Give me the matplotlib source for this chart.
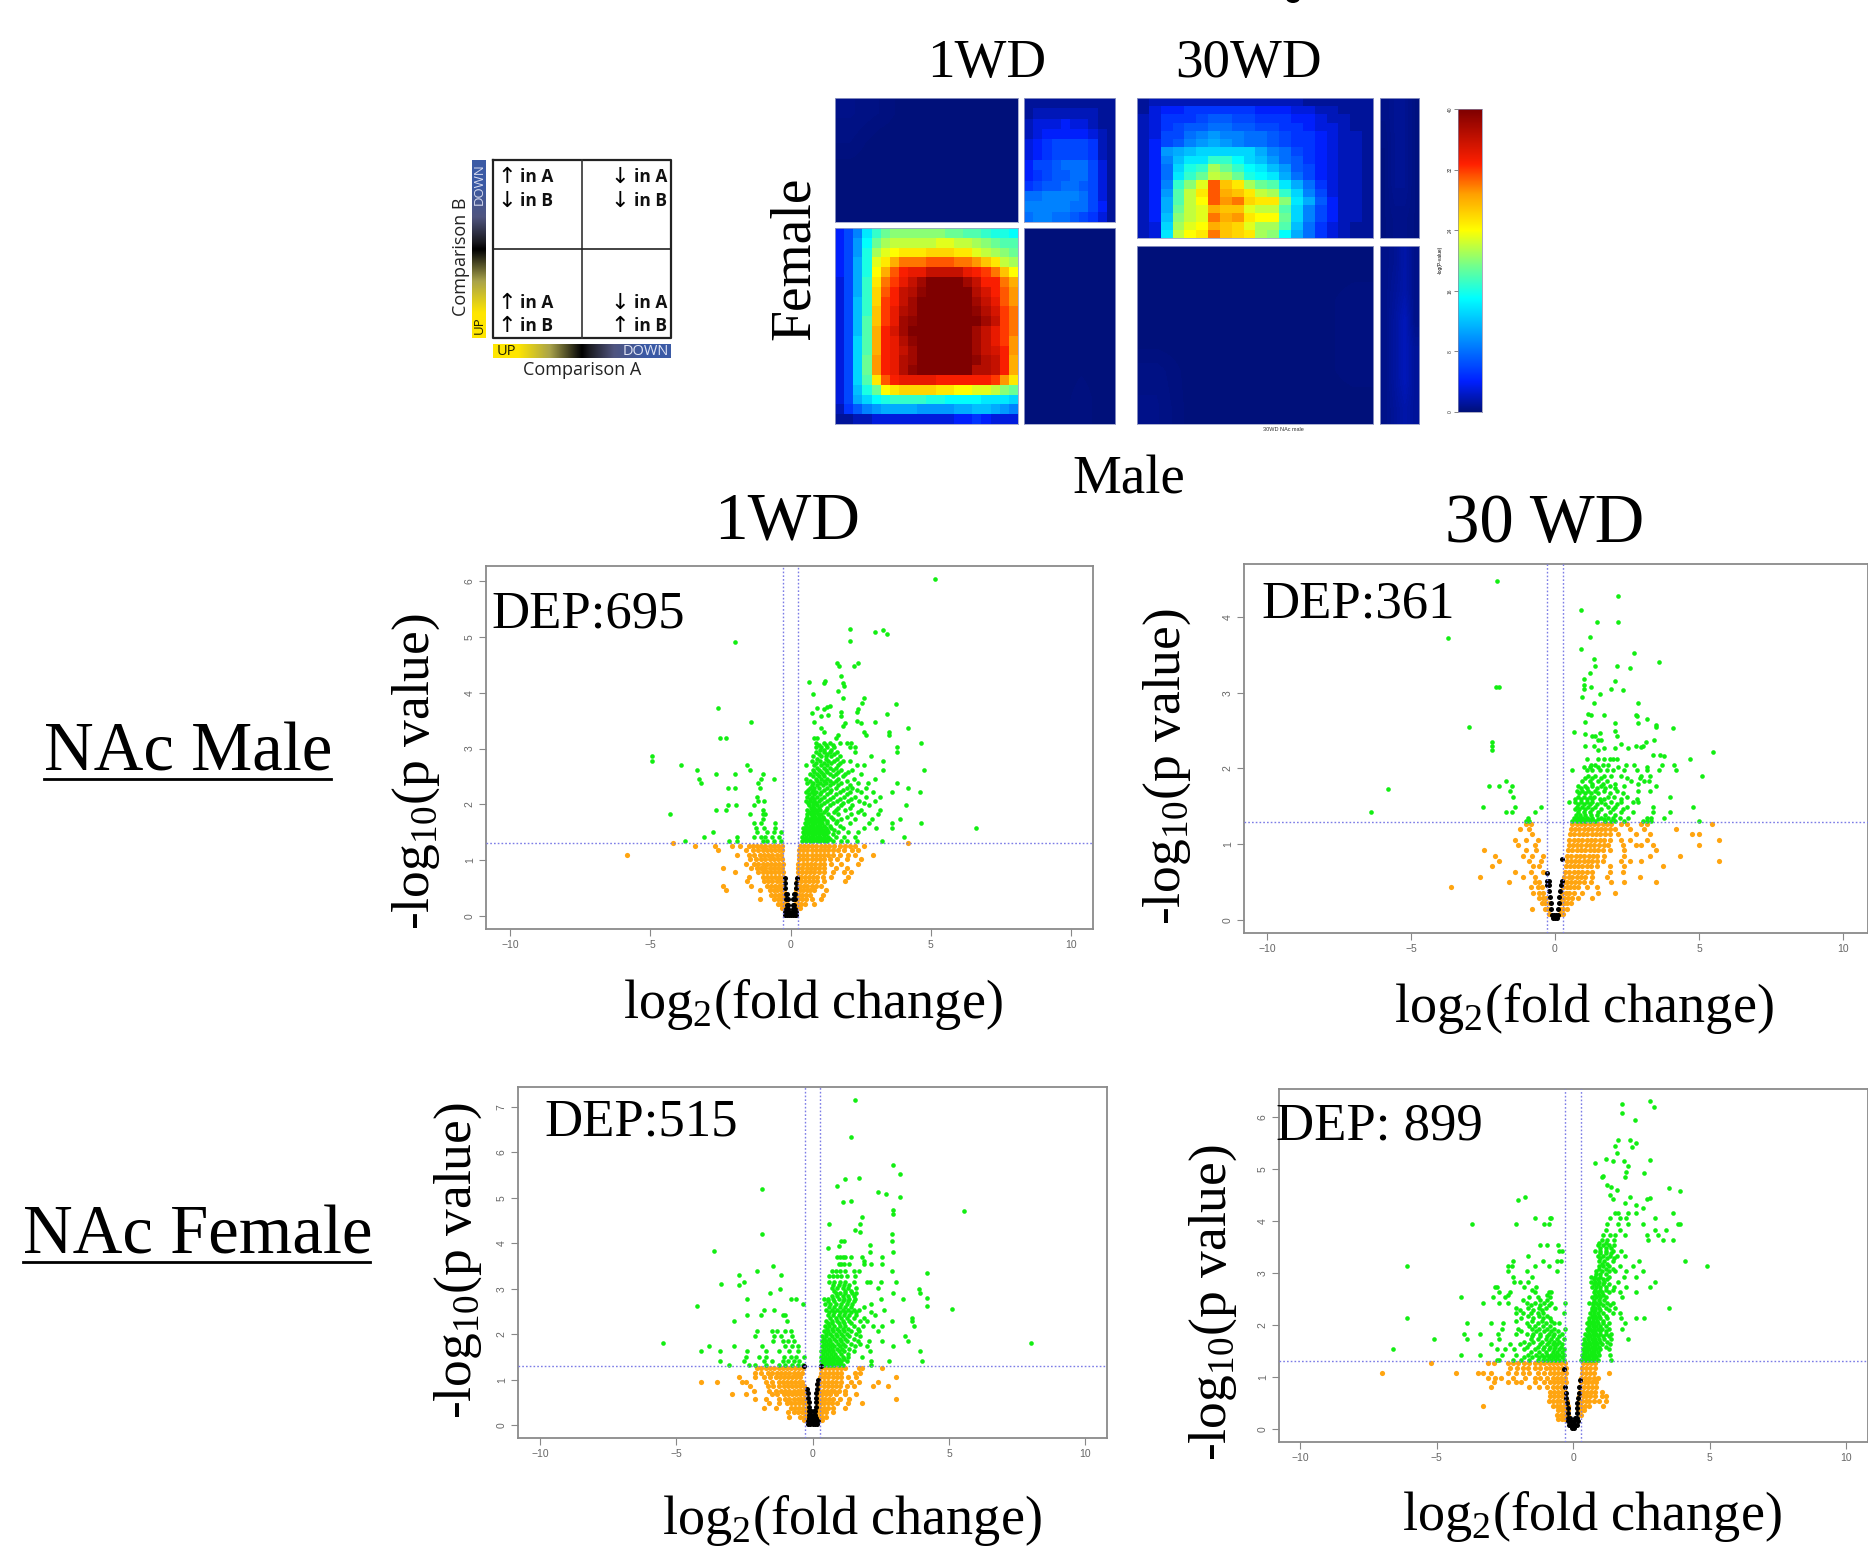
import matplotlib
matplotlib.use('Agg')
import matplotlib.pyplot as plt
from matplotlib.colors import LinearSegmentedColormap
from matplotlib.patches import Ellipse
import numpy as np

plt.rcParams['font.family'] = ['Liberation Serif', 'DejaVu Sans']
plt.rcParams['mathtext.fontset'] = 'custom'
plt.rcParams['mathtext.rm'] = 'Liberation Serif'

W, H = 1868, 1556

# ---- overlap heatmaps (-log P value) ----
wd1_ll = [
    [4,6,9,14,17,19,20,20,20,20,20,20,19,19,18,18,17,16,16,15],
    [4,6,10,15,19,21,22,22,22,22,22,23,23,22,22,21,20,19,18,18],
    [4,6,10,16,21,23,24,25,25,25,26,26,26,25,25,23,22,21,20,19],
    [4,6,11,16,23,25,28,30,30,30,31,31,31,30,30,29,27,25,22,21],
    [4,6,11,16,24,28,31,33,34,34,36,36,36,36,34,33,32,30,27,24],
    [3,6,11,17,25,30,32,34,36,38,40,40,40,40,38,36,33,33,30,28],
    [3,6,11,17,26,31,33,36,37,39,40,40,40,40,40,37,35,33,31,29],
    [3,6,12,17,26,32,33,36,38,40,40,40,40,40,40,38,36,34,31,29],
    [3,6,12,17,27,32,34,37,38,40,40,40,40,40,40,39,37,35,32,30],
    [3,6,12,18,27,32,34,38,39,40,40,40,40,40,40,40,38,36,32,30],
    [3,6,12,18,28,33,35,38,40,40,40,40,40,40,40,38,36,34,32,30],
    [3,6,13,18,28,33,34,37,39,40,40,40,40,40,40,38,36,34,32,29],
    [3,6,13,18,28,33,34,36,38,40,40,40,40,40,40,38,36,35,33,29],
    [3,6,13,19,29,33,34,37,38,40,40,40,40,40,40,39,37,36,33,28],
    [3,6,13,19,29,33,34,37,39,40,40,40,40,40,40,37,37,36,33,28],
    [3,6,13,18,25,31,33,34,34,34,34,33,33,33,33,33,33,32,29,25],
    [3,6,12,16,19,24,25,26,26,26,26,25,25,24,24,23,23,22,20,19],
    [3,6,11,13,15,16,17,17,17,17,16,16,15,15,15,15,14,14,14,13],
    [2,5,7,9,10,11,11,11,11,10,10,10,10,11,11,12,12,11,10,9],
    [1,1,2,2,3,3,3,3,3,3,3,3,3,4,4,5,4,3,3,3],
]
wd1_ur = [
    [1,1,1,1,1,1,1,1,1,1],
    [1,2,2,2,2,2,2,2,1,1],
    [2,3,3,3,4,3,3,2,1,1],
    [2,3,4,4,4,4,4,3,2,1],
    [3,4,5,6,6,6,6,5,2,1],
    [3,4,5,6,6,6,6,5,2,1],
    [4,6,6,7,8,8,8,6,3,1],
    [4,5,6,7,7,8,8,6,3,1],
    [5,6,7,7,8,8,7,6,3,1],
    [8,8,9,9,9,9,8,6,3,1],
    [9,9,9,9,9,8,8,6,4,1],
    [8,9,9,8,8,7,6,5,3,1],
]
wd1_ul = [[.5,.3,0,0,0,0],[.3,0,0,0,0,0],[0,0,0,0,0,0],[0,0,0,0,0,0]]
wd1_lr = [[0,0,0,0],[0,0,0,0],[0,0,0,0],[0,0,.3,0]]
wd30_ul = [
    [1,2,2,2,2,2,2,2,2,2,2,2,2,2,1,1,1,1,1,1],
    [1,3,4,4,5,5,5,5,5,5,4,4,4,3,3,2,2,1,1,1],
    [2,3,5,5,5,6,7,7,6,6,5,5,5,4,4,3,2,2,1,1],
    [2,3,5,6,7,7,8,8,7,7,6,6,5,5,4,3,3,2,1,1],
    [2,3,6,6,8,9,10,9,9,8,8,7,6,5,5,4,3,2,2,1],
    [2,4,6,7,9,10,11,10,9,8,8,7,6,5,5,4,3,2,2,1],
    [2,4,10,11,12,13,13,13,13,13,11,9,8,6,5,4,3,2,2,1],
    [2,4,9,12,14,14,17,17,15,13,12,10,8,7,5,4,3,2,2,1],
    [2,4,8,13,16,17,21,19,17,15,14,12,10,7,6,4,3,2,2,1],
    [2,4,8,14,17,19,22,21,19,16,15,14,11,8,6,4,3,2,2,1],
    [2,4,9,17,20,23,31,27,25,21,19,18,14,11,8,5,3,2,2,1],
    [2,4,10,18,22,25,31,28,27,25,22,21,17,13,9,6,3,2,2,1],
    [2,4,11,18,22,24,31,29,30,26,25,25,20,14,11,7,4,2,2,1],
    [2,4,11,19,22,23,28,27,27,23,22,22,18,13,9,6,4,2,2,1],
    [2,4,12,20,22,23,30,28,29,25,24,24,19,13,9,6,4,2,2,1],
    [2,3,13,21,23,24,28,27,26,23,21,21,18,12,8,5,3,2,1,1],
    [2,3,14,22,24,25,30,27,26,25,21,20,15,11,8,5,3,2,1,1],
]
wd30_ur = [[.5,.8,.8,.3],[.3,.8,.8,.3],[.3,.8,.8,.3],[.3,.5,.5,.3]]
wd30_ll = [[0,0,0,0,0,0],[0,0,0,0,0,.3],[0,0,0,0,0,.3],[.4,0,0,0,0,.3],[.5,0,0,0,0,0]]
wd30_lr = [[.5,.8,1.5,.5],[.5,1,1.5,.5],[.5,1.2,2,.5],[.5,1.2,2,1],[.5,1.2,2,1],[.5,1,1.5,1]]
cbar_ticks = [0, 8, 16, 24, 32, 40]

# ---- volcano plots: rows are (-log10 p, [log2 fc, ...]) ----
m1_green_rows = [
    (1.34,[.42,.55,.68,.8,.93,1.05,1.18,1.3,1.5,1.8,2.0,2.35,-.35,-.6,-.85,-1.0,-1.9,-2.2,-3.75,3.25]),
    (1.42,[.42,.55,.68,.8,.93,1.05,1.18,1.32,1.6,1.9,2.3,-.4,-.65,-.9,-1.05,-1.3,-1.9,-3.1,4.05]),
    (1.5,[.45,.58,.7,.82,.95,1.08,1.2,1.35,1.7,2.05,2.4,-.35,-.6,-.85,-1.2,-2.75]),
    (1.58,[.45,.6,.72,.85,.98,1.1,1.25,1.45,1.85,2.6,3.05,3.6,-.55,-.95,-1.25,6.6]),
    (1.66,[.5,.62,.75,.88,1,1.12,1.3,1.6,2.1,2.8,3.6,4.65,-.55,-1.3,-1.05]),
    (1.74,[.55,.68,.8,.92,1.05,1.2,1.5,1.8,2.3,2.9,3.9,-1.0]),
    (1.82,[.6,.72,.85,.98,1.1,1.35,1.7,2.15,2.6,3.1,-4.3,-1.45,-1.0,-.9]),
    (1.9,[.6,.75,.9,1.05,1.25,1.6,1.95,2.5,3.2,-2.65,-2.3,-1.0]),
    (1.98,[.65,.8,.95,1.1,1.4,1.8,2.2,2.8,4.1,-1.95,-2.25,-1.3]),
    (2.06,[.55,.7,.85,1.0,1.3,1.65,2.05,2.45,3.0,-1.15,-.95]),
    (2.14,[.6,.75,.95,1.2,1.5,1.9,2.3,2.7,3.2,-1.2]),
    (2.22,[.55,.75,.9,1.1,1.4,1.75,2.1,2.5,2.95,3.6,4.6]),
    (2.3,[.7,.85,1.0,1.3,1.6,2.0,2.2,2.7,4.2,-1.1,-2.25,-2]),
    (2.38,[.6,.8,1.05,1.25,1.5,1.8,2.4,2.75,3.8,-3.2,-1.15]),
    (2.46,[.55,.9,1.1,1.3,1.7,2.25,3.0,-3.25,-1.05,-.6]),
    (2.54,[.7,.95,1.15,1.4,1.6,1.95,2.5,-2.65,-2.0,-1.0]),
    (2.62,[.8,1.0,1.25,1.5,1.8,2.2,3.3,4.75,-3.35,-1.45]),
    (2.7,[.55,.85,1.1,1.3,1.7,2.35,2.6,-3.9,-1.55]),
    (2.78,[.75,1.05,1.35,1.55,1.85,2.1,3.3,-4.95]),
    (2.86,[.8,1.1,1.25,1.45,1.75,2.85,-4.95]),
    (2.94,[.9,1.2,1.4,1.65,2.3,3.8]),
    (3.02,[.9,1.1,1.3,1.55,2.1,2.3,3.8]),
    (3.1,[.9,1.2,1.4,1.75,2.0,2.15,4.65]),
    (3.18,[.85,.95,1.6,-2.5,-2.3]),
    (1.38,[.48,.6,.74,.87,1,1.12,1.25,1.42]),
    (1.46,[.48,.62,.75,.88,1,1.14,1.27,1.5]),
    (1.54,[.5,.65,.78,.9,1.02,1.15,1.3,1.55]),
    (1.62,[.55,.68,.8,.93,1.05,1.2,1.4,1.75]),
    (1.7,[.58,.72,.85,.98,1.1,1.3,1.65]),
    (1.78,[.6,.75,.88,1.0,1.15,1.45,2.0]),
    (1.86,[.67,.8,.95,1.2,1.55,2.4]),
    (1.94,[.72,.85,1,1.3,1.7,2.1]),
    (2.02,[.62,.78,.92,1.2,1.5,1.85,2.6]),
    (2.1,[.68,.85,1.1,1.4,1.75,2.15]),
    (2.18,[.65,.85,1.05,1.3,1.6,2.0]),
    (2.26,[.62,.8,1.2,1.45,1.85,2.35]),
    (2.34,[.75,.95,1.15,1.4,1.7,2.1]),
    (2.42,[.7,.95,1.2,1.4,1.6,2.0]),
    (2.5,[.8,1,1.2,1.5,1.85]),
    (2.58,[.85,1.1,1.3,1.7,2.05]),
    (2.66,[.95,1.2,1.4,1.6]),
    (2.74,[.9,1.2,1.45,1.75]),
    (2.82,[.95,1.25,1.65]),
    (2.9,[1,1.3,1.55]),
    (2.98,[1.05,1.2,1.45]),
    (3.06,[1.0,1.25,1.5]),
]
m1_green_pts = [(5.15,6.04),(-1.98,4.9),(2.1,5.15),(2.13,4.93),(3,5.09),(3.3,5.12),(3.45,5.05),(1.65,4.53),(1.72,4.47),
    (2.4,4.53),(2.25,4.47),(1.8,4.3),(1.85,4.17),(1.9,4.12),(.65,4.2),(1.2,4.18),(1.22,4.21),(1.85,3.9),(.8,3.97),(1.7,4.03),
    (2.6,3.9),(2.55,3.82),(2.4,3.7),(3.75,3.8),(-2.6,3.73),(-1.4,3.48),(.95,3.72),(1.3,3.75),(1.4,3.77),(1.2,3.7),(.75,3.64),
    (1.1,3.58),(1.35,3.6),(1.8,3.65),(1.8,3.58),(2.35,3.65),(3.45,3.62),(.85,3.47),(2.35,3.5),(2.5,3.45),(3,3.47),(3.5,3.3),
    (3.5,3.25),(4.2,3.37),(1.1,3.37),(1.2,3.3),(1.85,3.4),(1.95,3.45),(2.6,3.3),(2.7,3.25),(1.7,3.25)]
m1_orange_rows = [
    (1.26,[-2.1,-1.8,-1.5,-1.35,-1.2,-1.05,-.9,-.75,-.6,-.45,-.3,.32,.47,.62,.77,.92,1.07,1.22,1.37,1.55,1.75,1.95,2.1,2.3,-3.4,-2.7,2.6]),
    (1.18,[-1.6,-1.35,-1.15,-1,-.85,-.7,-.55,-.4,-.3,.3,.45,.6,.75,.9,1.05,1.2,1.35,1.5,1.7,1.9,2.2,2.4,-2.6]),
    (1.1,[-1.9,-1.5,-1.3,-1.1,-.95,-.8,-.65,-.5,-.35,.3,.45,.6,.75,.9,1.05,1.2,1.35,1.5,1.75,2.05,2.3,2.95,-5.85]),
    (1.02,[-1.45,-1.25,-1.05,-.9,-.75,-.6,-.45,-.3,.3,.45,.6,.75,.9,1.05,1.2,1.4,1.65,2.0,2.5]),
    (.94,[-1.6,-1.3,-1.15,-1.0,-.85,-.7,-.55,-.4,-.28,.28,.43,.58,.73,.88,1.03,1.2,1.45,1.8,2.4]),
    (.86,[-2.4,-1.4,-1.2,-1.05,-.9,-.75,-.6,-.45,-.3,.27,.42,.57,.72,.87,1.02,1.2,1.6,2.0]),
    (.78,[-2.0,-1.15,-1,-.85,-.7,-.55,-.4,-.27,.26,.4,.55,.7,.85,1,1.2,1.5,1.9,2.15]),
    (.7,[-1.5,-1.0,-.85,-.7,-.55,-.4,-.27,.25,.38,.52,.66,.8,.95,1.15,1.45,2.05]),
    (.62,[-1.55,-.95,-.8,-.65,-.5,-.38,-.25,.24,.36,.5,.64,.78,.95,1.2,1.95]),
    (.54,[-2.4,-1.4,-.85,-.7,-.55,-.42,-.3,.22,.34,.46,.6,.75,.9,1.1]),
    (.46,[-2.3,-1.1,-.75,-.6,-.47,-.35,-.23,.2,.32,.44,.58,.7,.85,1.25]),
    (.38,[-.7,-.55,-.42,-.3,-.2,.18,.3,.42,.55,.7,1.15]),
    (.3,[-1.1,-.6,-.45,-.33,-.2,.16,.28,.4,.55,.75,1.1]),
    (.22,[-.45,-.33,-.22,-.14,.14,.25,.37,.5,.85]),
    (.14,[-.3,-.2,-.12,.13,.22,.35]),
    (1.3,[-4.2,4.2]),
]
m1_black_rows = [(.02,[-.2,-.14,-.07,0,.07,.14,.2]),(.07,[-.2,-.12,-.05,.05,.12,.2]),(.12,[-.16,-.08,.08,.16]),(.2,[-.13,-.08,.08,.13]),
    (.3,[-.15,-.1,.1,.15]),(.4,[-.17,-.12,.12,.17]),(.5,[-.19,.18]),(.6,[-.2,.2]),(.68,[-.21,.21])]

m30_green_rows = [
    (2.12,[1.1,1.5,1.7,1.9,2.0,2.15,4.7]),
    (2.05,[1.25,1.4,1.65,1.85,2.45,2.75,3.7,4.15]),
    (1.98,[.6,1.1,1.3,1.55,1.8,2.0,2.4,2.85,3.2,3.6,4.2]),
    (1.9,[1.15,1.4,1.7,1.95,2.3,3.0,3.3,5.1]),
    (1.83,[.95,1.2,1.5,1.8,2.65,3.1,3.25,-1.7]),
    (1.77,[.8,1.05,1.3,1.6,1.9,2.4,3.5,-2.3,-1.95,-1.5]),
    (1.7,[.75,.95,1.15,1.4,1.7,2.15,2.9,3.3,-1.55]),
    (1.63,[.8,1.0,1.2,1.35,1.85,2.05,2.5,-1.45,4.0]),
    (1.56,[.5,.7,.9,1.1,1.3,1.6,1.95,2.3,2.7,2.9]),
    (1.49,[.75,.95,1.15,1.4,1.85,2.1,2.5,3.4,4.8,-2.5,-1.4,-.5]),
    (1.42,[.8,1.0,1.2,1.5,1.9,2.3,2.7,3.4,4.0,-1.7,-1.5,-6.4,-.7]),
    (1.35,[.65,.8,.95,1.1,1.3,1.6,1.85,2,2.25,2.55,3.2,3.35,3.8,-.95]),
    (1.31,[.6,.75,.9,1.05,1.2,1.4,1.75,1.95,2.1,2.4,3.05,3.2,3.35,5,-.9,-1.0]),
    (1.33,[.7,.85,1,1.15,1.3,1.5,1.7]),
    (1.39,[.72,.88,1.05,1.25,1.45,1.75,2.1]),
    (1.46,[.7,.85,1.05,1.3,1.6,2,2.35]),
    (1.53,[.8,1,1.2,1.45,1.75,2.15]),
    (1.6,[.7,.9,1.1,1.3,1.55,1.7,2.3,2.85]),
    (1.67,[.85,1.05,1.25,1.5,1.9,2.35]),
    (1.74,[.9,1.1,1.45,1.75,2.1]),
    (1.8,[1.3,1.65,2.1,2.9]),
    (1.87,[1.05,1.3,1.6,2.5,2.95]),
    (2.02,[1,1.2,1.5,2.2,3.2]),
]
m30_green_pts = [(-2.0,4.47),(2.2,4.28),(.9,4.09),(2.2,3.94),(1.45,3.93),(-3.7,3.72),(1.2,3.73),(.9,3.58),(2.75,3.53),(1.35,3.44),
    (3.6,3.41),(1.4,3.35),(2.15,3.35),(2.6,3.33),(1.2,3.26),(1,3.18),(2.1,3.15),(1,3.1),(1.25,3.07),(-2.05,3.08),(-1.95,3.07),(1,3.05),
    (1.95,3.05),(2.35,3.03),(.95,2.95),(1.55,2.98),(1.35,2.87),(2.9,2.87),(1.15,2.72),(1.25,2.7),(1.7,2.7),(2.8,2.7),(2.85,2.69),(3.2,2.65),
    (-3,2.55),(1.05,2.62),(2.1,2.6),(2.9,2.6),(3.5,2.57),(3.5,2.55),(4.1,2.53),(.65,2.48),(1.05,2.45),(1.3,2.43),(1.4,2.43),(1.55,2.47),
    (2.1,2.5),(2.15,2.43),(-2.2,2.35),(-2.2,2.3),(-2.2,2.25),(1.5,2.38),(1.6,2.37),(2.3,2.32),(2.8,2.3),(3,2.28),(3.15,2.35),(3.45,2.37),
    (1.05,2.3),(1.35,2.3),(1.5,2.25),(1.7,2.27),(2.1,2.27),(2.55,2.27),(3.05,2.3),(5.5,2.22),(3.4,2.18),(3.65,2.18),(3.8,2.17),(-5.8,1.73)]
m30_orange_rows = [
    (1.27,[-1.0,-.85,.6,.75,.9,1.05,1.2,1.35,1.5,1.65,1.8,1.95,2.3,2.5,3.0,3.2,5.45]),
    (1.2,[-1.2,-.9,.55,.7,.85,1,1.15,1.3,1.45,1.6,1.75,1.9,2.1,2.6,3.1,4.2]),
    (1.13,[-.8,.52,.67,.82,.97,1.12,1.27,1.42,1.57,1.72,1.9,2.2,2.8,3.3,4.75,5]),
    (1.06,[-1.4,-1.0,-.6,.5,.65,.8,.95,1.1,1.25,1.4,1.55,1.7,1.9,2.3,2.6,3.2,5.7]),
    (.99,[-1.3,-.7,.47,.62,.77,.92,1.07,1.22,1.37,1.52,1.7,1.85,2.35,2.8,3.0,3.4,5]),
    (.92,[-2.45,-1.0,-.65,.45,.6,.75,.9,1.05,1.2,1.35,1.5,1.65,1.9,2.4,3.5]),
    (.85,[-2.1,-1.1,-.8,-.4,.42,.57,.72,.87,1.02,1.17,1.32,1.47,1.7,2.4,3.3,4.35]),
    (.78,[-1.95,-.9,-.5,.4,.55,.7,.85,1,1.15,1.3,1.45,1.65,2.3,2.6,3.0,5.7]),
    (.71,[-2.2,-.75,-.55,.38,.52,.66,.8,.95,1.1,1.25,1.45,1.9,2.4,3.75]),
    (.64,[-1.4,-.85,-.4,.35,.5,.65,.8,.95,1.1,1.3,1.9,2.35]),
    (.57,[-2.6,-1.1,-.7,.33,.47,.6,.75,.9,1.05,1.3,1.8,2.95]),
    (.5,[-1.6,-.7,-.55,.3,.43,.56,.7,.85,1.0,1.25,1.95,2.4,3.5]),
    (.43,[-3.6,-.85,-.6,-.45,.28,.4,.52,.65,.8,1.1,1.45]),
    (.36,[-.75,-.55,-.42,.25,.37,.5,.65,.95,1.5,2.1]),
    (.29,[-.55,-.4,-.3,.22,.33,.45,.6,.8,1.3]),
    (.22,[-.45,-.33,-.22,.2,.3,.42,.55]),
    (.15,[-.8,-.35,-.25,.17,.27,.4]),
    (.08,[-.2,.18,.28]),
]
m30_black_rows = [(.02,[-.08,0,.08]),(.07,[-.12,-.04,.04,.12]),(.14,[-.14,.12]),(.22,[-.15,.13]),(.3,[-.18,.15]),(.38,[-.2,.16]),
    (.46,[-.28,-.22,.2]),(.52,[-.28,-.2,.24]),(.62,[-.28]),(.8,[.26])]

f1_green_rows = [
    (3.7,[.9,1.0,1.1,1.2,1.4]),
    (3.55,[.95,1.05,1.15,1.35,1.9,2.15,2.55]),
    (3.4,[.7,.85,1.0,1.2,1.5,1.7,2.9]),
    (3.28,[.6,.75,.9,1.05,1.25,1.55]),
    (3.15,[.6,.8,1.0,1.2,1.5,2,2.1,2.5,3.05]),
    (3.02,[.7,.9,1.1,1.3,1.6,2.4]),
    (2.9,[.85,1.0,1.2,1.45,1.6,2.95,3.95]),
    (2.78,[.4,.55,.75,.95,1.15,1.35,1.55,2.5,3.3,-2.4,-.8,-.6]),
    (2.66,[.45,.65,.85,1.05,1.25,1.45,2.15,-.35]),
    (2.54,[.5,.7,.9,1.1,1.3,1.5,1.7,2.6,-1.8,-1.4]),
    (2.42,[.55,.75,.95,1.15,1.35,1.6,2.3,-2.4,-1.9,-1.1,-1.0]),
    (2.3,[.5,.7,.9,1.1,1.35,1.75,2.0,2.9,3.65,-2.9,-.95]),
    (2.18,[.45,.6,.8,1.0,1.2,1.5,1.85,2.2,2.55,3.7]),
    (2.06,[.4,.55,.75,.95,1.15,1.4,1.7,2.4,-2.05,-1.5,-1.3,-1,-.8]),
    (1.95,[.35,.5,.7,.9,1.1,1.35,1.75,3.4,-2.1,-1.4,-1.15,-.75]),
    (1.84,[.35,.5,.65,.85,1.05,1.25,1.65,2.05,2.55,3.5,-1.45,-1.1,-.9,-.7]),
    (1.73,[.35,.5,.65,.8,1,1.2,1.55,2.0,2.95,-1.85,-1,-.75,-.55,-2.9,-3.8]),
    (1.62,[.3,.45,.6,.75,.95,1.15,1.5,2.1,3.95,-2.4,-1.7,-1.25,-.85,-.55,-4.1,-3.4]),
    (1.5,[.3,.45,.6,.75,.9,1.1,1.3,1.8,-2.45,-1.95,-1.7,-1.05,-.8,-.6,-.3]),
    (1.4,[.3,.45,.6,.75,.9,1.05,1.25,2.15,2.8,4,-2.5,-1.8,-1.5,-1.1,-.9,-.7,-.5,-3.4]),
    (1.32,[.3,.42,.55,.68,.8,.95,1.1,2.15,-3.05,-2.35,-2.1,-1.7,-1.25,-1,-.75,-.55,-.35]),
    (1.36,[.36,.5,.62,.75,.88,1]),
    (1.45,[.36,.5,.65,.8,.95,1.15]),
    (1.56,[.38,.52,.68,.82,1.05,1.3]),
    (1.68,[.4,.55,.7,.88,1.08,1.35]),
    (1.78,[.42,.58,.72,.92,1.12,1.4,1.75]),
    (1.9,[.42,.6,.8,1,1.2,1.5]),
    (2.0,[.48,.65,.85,1.05,1.25,1.6]),
    (2.12,[.52,.7,.9,1.1,1.3,1.65]),
    (2.24,[.55,.7,.95,1.15,1.4]),
    (2.36,[.65,.85,1.05,1.25,1.5,1.9]),
    (2.48,[.6,.8,1.0,1.2,1.4,1.6,2.15]),
    (2.6,[.6,.8,1,1.2,1.4,1.9]),
    (2.72,[.55,.8,1.1,1.3,1.5]),
    (2.84,[.7,.9,1.1,1.3,1.5]),
    (2.96,[.8,1.2,1.4]),
    (3.08,[.75,.95,1.15,1.35]),
]
f1_green_pts = [(1.55,7.15),(1.4,6.35),(2.95,5.72),(3.2,5.53),(1.7,5.43),(1.2,5.42),(.9,5.27),(-1.85,5.2),(2.4,5.12),(2.7,5.08),(3.2,5.02),
    (1.4,4.93),(1.1,4.9),(5.55,4.7),(2.95,4.73),(2.95,4.65),(1.8,4.58),(.6,4.43),(1.75,4.43),(1.55,4.3),(1.75,4.25),(2.9,4.2),(-1.85,4.2),
    (2.9,4.05),(1.05,4.05),(1.15,4.05),(2.1,3.97),(.55,3.9),(.95,3.93),(2.1,3.8),(2.95,3.8),(-3.6,3.83),(2.55,3.7),(1.8,3.7),(1.9,3.6),
    (4.2,3.35),(5.1,2.55),(8,1.8),(-5.5,1.8),(-4.25,2.63),(-3.35,3.1),(-2.7,3.3),(-2.7,3.08),(-2.5,3.15),(-2.05,3.4),(-1.45,3.5),(-1.15,3.3),
    (-1.2,3),(-1.55,2.9),(4.2,2.8),(4.2,2.62),(3.9,3.0),(3.65,2.35)]
f1_orange_rows = [
    (1.25,[-2.05,-1.9,-1.7,-1.55,-1.4,-1.25,-1.1,-.95,-.8,-.65,-.5,-.35,.3,.45,.6,.75,.9,1.05,1.2,1.7,1.8,2.55]),
    (1.15,[-2.1,-1.9,-1.65,-1.5,-1.3,-1.15,-1,-.85,-.7,-.55,-.4,.3,.45,.6,.75,.9,1.05,1.55,1.75]),
    (1.05,[-2.7,-2.1,-1.8,-1.55,-1.35,-1.2,-1.05,-.9,-.75,-.6,-.45,.28,.43,.58,.73,.88,1.03,1.3,1.6,3.05]),
    (.95,[-4.1,-3.5,-2.6,-2.45,-1.7,-1.5,-1.25,-1.1,-.95,-.8,-.65,-.5,-.38,.27,.42,.57,.72,.87,1.05,1.4,1.7,2.4]),
    (.85,[-2.3,-1.65,-1.45,-1.25,-1.05,-.9,-.75,-.6,-.45,-.33,.25,.4,.55,.7,.85,1.0,1.25,1.5,2.2,2.75]),
    (.75,[-2.15,-1.6,-1.35,-1.15,-1,-.85,-.7,-.55,-.42,-.3,.24,.38,.52,.66,.8,.95,1.2]),
    (.68,[-2.95,-2.45,-1.5,-1.3,-1.05,-.9,-.75,-.6,-.47,-.33,.22,.35,.5,.65,.85,1.2,1.6]),
    (.58,[-2.1,-1.7,-1.25,-1.0,-.85,-.7,-.55,-.42,-.3,.2,.33,.47,.6,.75,1,1.35,3.05]),
    (.48,[-1.6,-1.25,-.95,-.8,-.65,-.5,-.37,-.25,.18,.3,.42,.55,.7,.9,1.3,1.8]),
    (.38,[-1.8,-1.35,-.8,-.65,-.5,-.35,-.22,.15,.27,.4,.55,.75,1.2]),
    (.28,[-.9,-.7,-.55,-.4,-.28,-.18,.13,.24,.36,.5,.75]),
    (.18,[-.85,-.45,-.32,-.2,.12,.22,.34,.5]),
    (.1,[-.3,-.18,.12,.22,.35]),
]
f1_black_rows = [(.03,[-.16,-.08,0,.08,.16]),(.09,[-.18,-.12,-.04,.04,.12,.18]),(.15,[-.14,-.06,.06,.14]),(.22,[-.12,-.06,.06,.1]),
    (.3,[-.13,-.06,.06,.1]),(.4,[-.13,.12]),(.5,[-.15,.12]),(.6,[-.16,.13]),(.7,[-.18,.14]),(.8,[-.2,.15]),(.9,[.17]),(1.0,[.2]),(1.3,[-.3,.3])]

f30_green_rows = [
    (1.33,[.3,.42,.54,.66,.78,.9,1.4,-.35,-.5,-.65,-.8,-.95,-1.1,-1.3,-1.6,-1.9,-2.7,-2.8,-2.2]),
    (1.43,[.32,.45,.58,.7,.82,.95,1.35,-.35,-.5,-.65,-.8,-.95,-1.15,-1.35,-1.65,-2.1,-2.6,-3.4,-4.1]),
    (1.53,[.35,.48,.6,.72,.85,1,1.3,-.35,-.5,-.7,-.9,-1.1,-1.4,-1.8,-2.15,-2.5,-2.8,-6.6]),
    (1.63,[.38,.5,.62,.75,.88,1.05,1.35,-.4,-.6,-.75,-.95,-1.2,-1.6,-1.95,-2.3,-3]),
    (1.73,[.4,.55,.68,.8,.95,1.15,1.4,2,-.35,-.6,-.8,-1,-1.3,-1.55,-2.7,-3.9,-5.1]),
    (1.83,[.45,.6,.72,.85,1,1.2,1.4,-.4,-.7,-.9,-1.2,-1.45,-1.7,-2.1,-2.75,-3.4,-4]),
    (1.93,[.5,.62,.75,.9,1.05,1.3,1.8,-.3,-.7,-.95,-1.25,-1.5,-2.0,-2.6]),
    (2.03,[.5,.65,.78,.92,1.08,1.3,1.9,-.5,-.7,-1.0,-1.3,-1.7,-2.55,-3.9,-3.0]),
    (2.13,[.6,.72,.85,1,1.25,1.75,2.3,2.6,-.85,-1.1,-1.45,-1.9,-6.1]),
    (2.23,[.62,.75,.9,1.1,1.45,1.7,-.35,-1.1,-1.3,-1.55,-1.85,-2.1]),
    (2.33,[.7,.82,.95,1.2,1.55,-.65,-1,-1.25,-1.65,-2.1,3.5]),
    (2.43,[.58,.72,.85,1,1.25,1.45,-.3,-.8,-1.05,-1.4,-1.7,-2.4,-2.7,-3.3]),
    (2.53,[.7,.85,1.0,1.2,1.8,-.85,-1.3,-1.6,-2.5,-2.95,-4.1]),
    (2.63,[.75,.9,1.05,1.3,1.7,2.3,-.8,-.9,-1.4,-2.3,-2.7]),
    (2.73,[.7,.85,1,1.2,1.5,1.95,2.8,-1.35,-1.8,-2.8,-2.85]),
    (2.83,[.65,.8,.95,1.15,1.65,3,-1.65,-1.95,-2.15]),
    (2.93,[.65,.8,1,1.3,1.85,2.3,-1.5,-2.2]),
    (3.03,[.85,1.05,1.3,1.55,1.95,2.55,-1.7,-2.4,-.6]),
    (3.13,[.95,1.1,1.3,1.7,2.2,-2.4,-2.25,-1.4,-.9,4.9,-6.1]),
    (3.23,[.95,1.15,1.45,2.4,-2.2,-1.1,-.45,-.6,4.1]),
    (3.33,[.9,1.1,1.35,1.6,1.9,-1.65]),
    (3.43,[.8,1,1.2,1.45,1.75,-.5,-.4]),
    (3.53,[.9,1.1,1.3,1.5,-1.2,-.95,-.55]),
    (3.63,[1.05,1.25,1.5,2.75,3.65,3.3]),
    (3.73,[1.1,1.35,1.55,1.9,2.7,3.1]),
    (3.83,[1.2,1.7,3.0,3.4]),
    (3.95,[1.25,1.65,2,2.55,-2.1,-1.05,-.9,3.85,3.9,-3.7]),
    (4.05,[1.35,1.7,1.95,3.0,-.85,-.8,-1.4]),
    (4.15,[1.55,1.65,2.0,2.3,3.65]),
    (1.38,[.36,.48,.6,.72,.85,-.42,-.58,-.72,-.88,-1.05,-1.25,-1.5,-1.8]),
    (1.48,[.4,.52,.65,.78,.92,-.42,-.58,-.75,-1,-1.25,-1.55]),
    (1.58,[.42,.55,.68,.8,.95,1.2,-.45,-.65,-.85,-1.05,-1.3,-1.7]),
    (1.68,[.45,.6,.72,.85,1,1.25,-.5,-.7,-.9,-1.15,-1.45,-1.8]),
    (1.78,[.5,.62,.75,.9,1.1,1.3,-.5,-.72,-.95,-1.2,-1.5]),
    (1.88,[.55,.68,.82,.98,1.2,-.55,-.8,-1.05,-1.35,-1.9]),
    (1.98,[.58,.72,.85,1,1.2,-.85,-1.1,-1.4,-1.6]),
    (2.08,[.58,.72,.88,1.1,-.8,-1.15,-1.5,-2.1]),
    (2.18,[.68,.8,.95,1.2,-.95,-1.25,-1.65]),
    (2.28,[.68,.82,1.0,1.3,-1.15,-1.45,-1.95]),
    (2.38,[.72,.9,1.1,1.35,-.9,-1.2,-1.55]),
    (2.48,[.78,.95,1.15,-.95,-1.2,-1.85]),
    (2.58,[.8,.95,1.1,-.95,-2.4]),
    (2.68,[.82,1,1.2,1.45,-1.5]),
    (2.78,[.75,.9,1.1,1.3]),
    (2.88,[.75,.9,1.1,1.25]),
    (2.98,[.85,1,1.2]),
    (3.08,[.95,1.2,1.45]),
    (3.18,[1.05,1.25]),
    (3.28,[1,1.25,1.5]),
    (3.38,[1,1.2,1.4]),
    (3.48,[1,1.2,1.4]),
    (3.58,[.95,1.2]),
]
f30_green_pts = [(2.8,6.3),(2.95,6.2),(1.8,6.25),(1.8,6.08),(2.25,5.95),(1.65,5.55),(2.1,5.55),(2.3,5.5),(1.55,5.45),(2.15,5.42),(1.6,5.3),
    (.8,5.12),(1.2,5.2),(1.45,5.15),(1.85,5.15),(2.8,5.17),(2,5.05),(1.95,4.95),(2.6,4.93),(1.9,4.85),(1.1,4.87),(1.05,4.85),(1.25,4.7),
    (1.4,4.65),(1.6,4.6),(3.5,4.63),(3.9,4.57),(1.35,4.5),(1.45,4.42),(2.1,4.47),(2.8,4.45),(2.7,4.43),(1.9,4.35),(2.3,4.3),(2.55,4.25),
    (-1.75,4.47),(-2,4.4)]
f30_orange_rows = [
    (1.26,[-3.1,-2.9,-2.4,-2.2,-2.0,-1.8,-1.6,-1.4,-1.2,-1.05,-.9,-.75,-.6,-.45,-.3,.35,.5,.65,.8,-5.2]),
    (1.17,[-2.3,-2.05,-1.85,-1.65,-1.4,-1.2,-1,-.85,-.7,-.55,-.4,-.27,.33,.48,.63,.8]),
    (1.08,[-7,-4.3,-3.5,-3.3,-3,-2.4,-2.1,-1.85,-1.6,-1.3,-1.05,-.85,-.7,-.55,-.4,-.27,.32,.47,.62,.78,1.3]),
    (.99,[-3.1,-2.85,-2.65,-2.2,-1.75,-1.4,-1.2,-.95,-.75,-.6,-.45,-.3,.3,.45,.6,.75,.9]),
    (.9,[-2.9,-2.4,-2.1,-1.9,-1.4,-1.05,-.85,-.7,-.55,-.4,-.27,.28,.42,.56,.7,.85]),
    (.81,[-3,-1.6,-1.25,-.95,-.75,-.6,-.45,-.32,.26,.4,.54,.68,.85]),
    (.72,[-.85,-.7,-.55,-.42,-.28,.24,.38,.52,.66,.82,1.05]),
    (.63,[-.85,-.7,-.55,-.42,-.28,.22,.35,.48,.62,.8,1.05,1.2]),
    (.54,[-.9,-.75,-.6,-.47,-.33,-.22,.2,.33,.46,.6,.75,.95,1.2]),
    (.45,[-3.3,-.75,-.6,-.47,-.33,-.2,.18,.3,.43,.6,1.1]),
    (.36,[-.55,-.42,-.3,-.18,.17,.28,.4]),
    (.27,[-.6,-.45,-.32,-.17,.28]),
    (.2,[-.55,-.4,-.28]),
]
f30_black_rows = [(.02,[-.05,.02]),(.08,[-.15,-.08,0,.08,.15]),(.15,[-.18,-.08,.05,.17]),(.22,[-.17,-.1,.08,.14]),(.3,[-.18,.13]),(.4,[-.2,.15]),
    (.5,[-.23,.16]),(.6,[-.25,.18]),(.7,[-.27,.2]),(.8,[-.28,.22]),(.95,[.26]),(1.15,[-.35])]

x_ticks = [-10, -5, 0, 5, 10]
fc_cut = 0.28
p_cut = 1.3


def flatten(rows, pts=()):
    xs, ys = [], []
    for y, vals in rows:
        xs += list(vals)
        ys += [y] * len(vals)
    for x, y in pts:
        xs.append(x)
        ys.append(y)
    return xs, ys


fig = plt.figure(figsize=(W / 100, H / 100), dpi=100, facecolor='white')


def pix_axes(l, t, r, b, **kw):
    return fig.add_axes([l / W, 1 - b / H, (r - l) / W, (b - t) / H], **kw)


# ---- heatmaps ----
heat_cmap = LinearSegmentedColormap.from_list('rrho', [
    (0.0, '#00107a'), (0.1, '#0020ff'), (0.22, '#0080ff'), (0.375, '#00ffff'),
    (0.48, '#70ff90'), (0.6, '#ffff00'), (0.72, '#ffa000'), (0.82, '#ff2000'), (1.0, '#7f0000')])

heat_blocks = [
    (wd1_ul, 835, 98, 1018, 222), (wd1_ur, 1024, 98, 1115, 222),
    (wd1_ll, 835, 228, 1018, 424), (wd1_lr, 1024, 228, 1115, 424),
    (wd30_ul, 1137, 98, 1373, 238), (wd30_ur, 1380, 98, 1419, 238),
    (wd30_ll, 1137, 246, 1373, 424), (wd30_lr, 1380, 246, 1419, 424),
]
for grid, l, t, r, b in heat_blocks:
    ax = pix_axes(l, t, r, b)
    # the small grids are only a faint wash, the big ones show their cells
    interp = 'nearest' if len(grid[0]) >= 10 else 'bilinear'
    ax.imshow(np.array(grid, dtype=float), cmap=heat_cmap, vmin=0, vmax=40, aspect='auto',
              interpolation=interp)
    ax.set_xticks([])
    ax.set_yticks([])
    for s in ax.spines.values():
        s.set_color('#9aa0c8')
        s.set_linewidth(0.6)

# colorbar
cax = pix_axes(1458, 109, 1482, 412)
cax.imshow(np.linspace(40, 0, 256).reshape(-1, 1), cmap=heat_cmap, vmin=0, vmax=40, aspect='auto',
           extent=[0, 1, 0, 40])
cax.set_xticks([])
cax.set_yticks(cbar_ticks)
cax.set_yticklabels([str(t) for t in cbar_ticks], rotation=90, va='center', fontsize=3.5,
                    family='Liberation Sans', color='#333333')
cax.tick_params(axis='y', length=3, width=0.5, pad=1, color='#555555')
for s in cax.spines.values():
    s.set_color('#8888aa')
    s.set_linewidth(0.5)

# ---- legend square ----
bar_cmap = LinearSegmentedColormap.from_list('updown', [
    (0.0, '#ffe600'), (0.14, '#ffe600'), (0.32, '#a8a24a'), (0.47, '#1a1a10'), (0.5, '#000000'),
    (0.54, '#1a1a20'), (0.68, '#50557f'), (0.86, '#3b5aa5'), (1.0, '#3b5aa5')])
hbar = pix_axes(493, 344, 671, 358)
hbar.imshow(np.linspace(0, 1, 256).reshape(1, -1), cmap=bar_cmap, aspect='auto')
hbar.axis('off')
vbar = pix_axes(472, 160, 486, 338)
vbar.imshow(np.linspace(1, 0, 256).reshape(-1, 1), cmap=bar_cmap, aspect='auto')
vbar.axis('off')

# ---- volcano panels ----
panels = [
    (486, 566, 1093, 929, (-10.86, 10.78), (-0.233, 6.27), [0, 1, 2, 3, 4, 5, 6],
     flatten(m1_green_rows, m1_green_pts), flatten(m1_orange_rows), flatten(m1_black_rows)),
    (1244, 564, 1868, 933, (-10.8, 10.87), (-0.172, 4.70), [0, 1, 2, 3, 4],
     flatten(m30_green_rows, m30_green_pts), flatten(m30_orange_rows), flatten(m30_black_rows)),
    (518, 1087, 1107, 1438, (-10.8, 10.79), (-0.286, 7.44), [0, 1, 2, 3, 4, 5, 6, 7],
     flatten(f1_green_rows, f1_green_pts), flatten(f1_orange_rows), flatten(f1_black_rows)),
    (1279, 1089, 1868, 1442, (-10.77, 10.8), (-0.25, 6.54), [0, 1, 2, 3, 4, 5, 6],
     flatten(f30_green_rows, f30_green_pts), flatten(f30_orange_rows), flatten(f30_black_rows)),
]
guide = dict(color='#7c7ce6', lw=1, ls=(0, (1.2, 1.5)), zorder=5)
for l, t, r, b, xlim, ylim, yt, green, orange, black in panels:
    ax = pix_axes(l, t, r, b)
    ax.scatter(orange[0], orange[1], s=14, c='#ffa510', linewidths=0, zorder=2)
    ax.scatter(green[0], green[1], s=11, c='#12ee12', linewidths=0, zorder=3)
    ax.scatter(black[0], black[1], s=13, c='black', linewidths=0, zorder=4)
    ax.axvline(-fc_cut, **guide)
    ax.axvline(fc_cut, **guide)
    ax.axhline(p_cut, **guide)
    ax.set_xlim(xlim)
    ax.set_ylim(ylim)
    ax.set_xticks(x_ticks)
    ax.set_yticks(yt)
    ax.tick_params(axis='both', length=5, width=0.8, color='#888888', labelcolor='#666666', labelsize=7.5, pad=3)
    for lab in ax.get_xticklabels() + ax.get_yticklabels():
        lab.set_family('Liberation Sans')
    for lab in ax.get_yticklabels():
        lab.set_rotation(90)
        lab.set_va('center')
    for s in ax.spines.values():
        s.set_color('#8a8a8a')
        s.set_linewidth(1.3)

# ---- everything written on top, in picture pixels ----
ov = fig.add_axes([0, 0, 1, 1], facecolor='none')
ov.set_xlim(0, W)
ov.set_ylim(H, 0)
ov.axis('off')

ov.text(987, 77, '1WD', fontsize=39.5, ha='center', va='baseline')
ov.text(1248, 77, '30WD', fontsize=39.5, ha='center', va='baseline')
ov.text(1129, 493, 'Male', fontsize=39.5, ha='center', va='baseline')
ov.text(795, 258, 'Female', fontsize=40, rotation=90, ha='center', va='center')
ov.text(787, 538, '1WD', fontsize=48.5, ha='center', va='baseline')
ov.text(1545, 542, '30 WD', fontsize=49.5, ha='center', va='baseline')
ov.text(44, 770, 'NAc Male', fontsize=49.5, ha='left', va='baseline')
ov.plot([44, 331], [779, 779], color='black', lw=2)
ov.text(23, 1254, 'NAc Female', fontsize=49.5, ha='left', va='baseline')
ov.plot([23, 370], [1262, 1262], color='black', lw=2)

ov.text(491, 627, 'DEP:695', fontsize=38, ha='left', va='baseline')
ov.text(1261, 617, 'DEP:361', fontsize=38, ha='left', va='baseline')
ov.text(544, 1135, 'DEP:515', fontsize=38, ha='left', va='baseline')
ov.text(1276, 1139, 'DEP: 899', fontsize=38, ha='left', va='baseline')

ylab = r'-log$_{10}$(p value)'
xlab = r'log$_{2}$(fold change)'
for x, y in [(416, 772), (1167, 767), (458, 1261), (1213, 1303)]:
    ov.text(x, y, ylab, fontsize=38.5, rotation=90, ha='center', va='center')
for x, y in [(813, 1018), (1584, 1022), (852, 1534), (1592, 1530)]:
    ov.text(x, y, xlab, fontsize=39, ha='center', va='baseline')

# legend square lines and words
ov.plot([493, 671, 671, 493, 493], [160, 160, 338, 338, 160], color='#222222', lw=1.6)
ov.plot([582, 582], [160, 338], color='#333333', lw=1.2)
ov.plot([493, 671], [249, 249], color='#222222', lw=1.2)
sans = 'Open Sans'
legend_cells = [
    (507, 520, 177, '↑', 'in A'), (507, 520, 201, '↓', 'in B'),
    (620, 634, 177, '↓', 'in A'), (620, 634, 201, '↓', 'in B'),
    (507, 520, 303, '↑', 'in A'), (507, 520, 326, '↑', 'in B'),
    (620, 634, 303, '↓', 'in A'), (620, 634, 326, '↑', 'in B'),
]
for ax_x, tx_x, y, arrow, word in legend_cells:
    ov.text(ax_x, y, arrow, fontsize=16, family='DejaVu Sans', ha='center', va='center')
    ov.text(tx_x, y, word, fontsize=12.5, family=sans, weight='bold', ha='left', va='center', color='#111111')
ov.text(497, 351, 'UP', fontsize=10.5, family=sans, ha='left', va='center', color='#222200')
ov.text(669, 351, 'DOWN', fontsize=10.5, family=sans, ha='right', va='center', color='#e0e4f4')
ov.text(479, 325, 'UP', fontsize=9.5, family=sans, rotation=90, ha='center', va='center', color='#222200')
ov.text(479, 184, 'DOWN', fontsize=9.5, family=sans, rotation=90, ha='center', va='center', color='#d8dcf0')
ov.text(582, 370, 'Comparison A', fontsize=13, family=sans, ha='center', va='center', color='#222222')
ov.text(461, 257, 'Comparison B', fontsize=13, family=sans, rotation=90, ha='center', va='center', color='#222222')

ov.text(1440, 260, '-log(P-value)', fontsize=3.5, family='Liberation Sans', rotation=90, ha='center', va='center')
ov.text(1283, 429, '30WD NAc male', fontsize=4, family='Liberation Sans', ha='center', va='center', color='#333333')
# bit of a cropped letter at the very top edge
ov.add_patch(Ellipse((1293, -2), 14, 10, facecolor='black', edgecolor='none'))

fig.savefig('out.png', dpi=100, facecolor='white')
plt.close(fig)
